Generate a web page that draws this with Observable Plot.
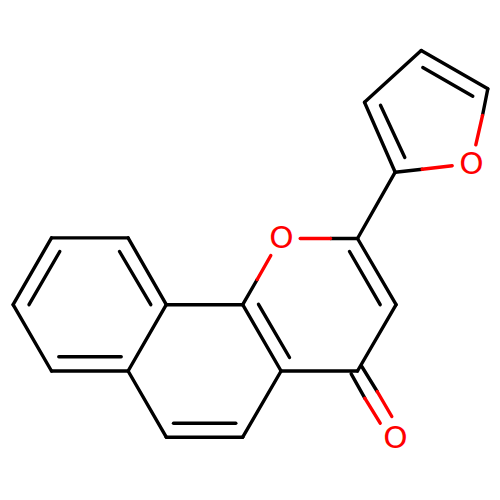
<!DOCTYPE html>
<html>
<head>
<meta charset="utf-8">
<style>html,body{margin:0;padding:0;background:#fff}svg{display:block}</style>
<script src="https://cdn.jsdelivr.net/npm/d3@7"></script>
<script src="https://cdn.jsdelivr.net/npm/@observablehq/plot@0.6"></script>
</head>
<body>
<div id="chart"></div>
<script>
const blackBonds = [
  [51,237.4,127.6,237.4],[127.6,237.4,165.8,304.2],[165.8,304.2,127.6,370.5],
  [127.6,370.5,51,370.5],[51,370.5,12.6,304.2],[12.6,304.2,51,237.4],
  [59.3,251,28.5,304.2],[119,251,150.3,304.2],[58.3,356.3,120.7,356.3],
  [165.8,304.2,242.2,304.2],[127.6,370.5,165.8,436.7],[165.8,436.7,242.2,436.7],
  [173,422.7,235.3,422.7],[242.2,436.7,280.6,370.5],[242.2,304.2,280.6,370.5],
  [258,303.8,289,357],[280.6,370.5,357,370.5],[357,370.5,395.6,304.2],
  [395.6,304.2,357,238],[349,251,379.7,304.2],[242.2,304.2,256.7,279],
  [330,238,357,238],[350.7,373.3,364.3,397.7],[361.3,366,376.7,391],
  [357,238,394.7,171.7],[394.7,171.7,364,101.7],[364,101.7,420.7,50],
  [420.7,50,487.3,88.3],[380,104.7,404.3,157],[422.3,67,472.3,95.7],
  [487.3,88.3,482,115],[394.7,171.7,421.7,168.7]
];
const redBonds = [
  [256.7,279,270.3,255],[299.7,238,330,238],[364.3,397.7,379.7,422.7],
  [376.7,391,391.3,416],[482,115,475.3,144.3],[421.7,168.7,451.7,165.3]
];
const atomX = [281,395,471];
const atomY = [238,437.5,164];
const atomLabels = ["O","O","O"];
const atoms = atomLabels.map((label,i)=>({label,x:atomX[i],y:atomY[i]}));
const link = (segs,color)=>Plot.link(segs,{
  x1:d=>d[0],y1:d=>d[1],x2:d=>d[2],y2:d=>d[3],
  stroke:color,strokeWidth:3.4,strokeLinecap:"round",markerEnd:null
});
const chart = Plot.plot({
  width:500,height:500,margin:0,
  x:{domain:[0,500],range:[0,500],axis:null},
  y:{domain:[0,500],range:[0,500],axis:null},
  marks:[
    link(blackBonds,"#000"),
    link(redBonds,"#ff0000"),
    Plot.text(atoms,{x:"x",y:"y",text:"label",fill:"#ff0000",fontSize:31,fontFamily:"DejaVu Sans",textAnchor:"middle",lineAnchor:"middle"})
  ]
});
document.getElementById("chart").append(chart);
</script>
</body>
</html>
